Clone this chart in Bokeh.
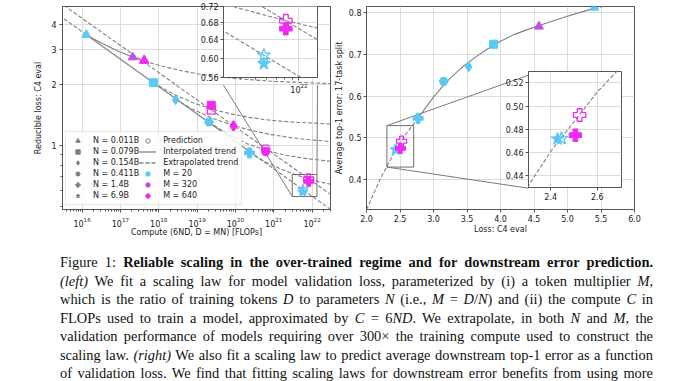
import numpy as np
from bokeh.plotting import figure
from bokeh.models import (Range1d, FixedTicker, PrintfTickFormatter, LogTickFormatter,
                          Legend, LegendItem, GridBox, Div, ColumnDataSource)
from bokeh.embed import file_html
from bokeh.resources import INLINE

# ---------------- left panel data ----------------
N_LABELS = ["0.011B", "0.079B", "0.154B", "0.411B", "1.4B", "6.9B"]
N_MARKERS = ["triangle", "square", "diamond", "hex", "plus", "star"]
M_LABELS = ["20", "320", "640"]
M_COLORS = ["#5ac8f5", "#c44de6", "#f02af0"]

# observed runs: N index, M index, compute [FLOPs], reducible loss
obs_n = [0, 0, 0, 1, 1, 2, 2, 3, 3, 4, 4, 5]
obs_m = [0, 1, 2, 0, 2, 0, 2, 0, 2, 0, 2, 0]
obs_c = [1.29e16, 2.09e17, 4.17e17, 7.24e17, 2.34e19, 2.75e18, 8.91e19,
         2.04e19, 6.17e20, 2.34e20, 8.13e21, 5.75e21]
obs_l = [3.54, 2.74, 2.64, 2.05, 1.585, 1.69, 1.256, 1.31, 0.935, 0.921, 0.666, 0.588]

# predictions (hollow markers)
pred_n = [0, 1, 2, 3, 4, 5]
pred_m = [2, 2, 2, 2, 2, 0]
pred_c = [4.17e17, 2.34e19, 8.91e19, 6.17e20, 8.13e21, 5.75e21]
pred_l = [2.64, 1.50, 1.25, 0.963, 0.685, 0.606]

# trend: M = 20 (dashed, solid, dashed)
m20_c = [2.5e15, 1.29e16, 2.34e20, 3.02e22]
m20_l = [4.43, 3.54, 0.935, 0.484]
# trend: M = 640 (dashed)
m640_c = [2.5e15, 3.02e22]
m640_l = [5.15, 0.574]
# trend: N = 0.011B (solid up to 5th point, then dashed)
n011_c = [1.29e16, 3.16e16, 1.0e17, 2.09e17, 4.17e17, 1.0e18, 3.16e18, 1.0e19,
          3.16e19, 1.0e20, 1.0e21, 3.02e22]
n011_l = [3.54, 3.22, 2.90, 2.75, 2.62, 2.50, 2.37, 2.27, 2.20, 2.15, 2.08, 2.03]
n079_c = [7.24e17, 2.29e18, 7.24e18, 2.34e19, 7.24e19, 2.29e20, 7.24e20, 2.88e21, 3.02e22]
n079_l = [2.05, 1.81, 1.64, 1.52, 1.44, 1.38, 1.34, 1.31, 1.28]
n154_c = [2.75e18, 8.71e18, 2.75e19, 8.91e19, 2.75e20, 8.71e20, 2.75e21, 8.71e21, 3.02e22]
n154_l = [1.69, 1.497, 1.358, 1.256, 1.186, 1.134, 1.096, 1.069, 1.049]
n411_c = [2.04e19, 6.46e19, 2.04e20, 6.17e20, 2.04e21, 6.46e21, 3.02e22]
n411_l = [1.31, 1.137, 1.023, 0.95, 0.897, 0.865, 0.837]
n14_c = [2.34e20, 5.89e20, 1.48e21, 3.72e21, 8.13e21, 1.48e22, 3.02e22]
n14_l = [0.921, 0.834, 0.768, 0.718, 0.685, 0.664, 0.644]

# ---------------- right panel data ----------------
r_loss = [5.398, 4.574, 3.897, 3.525, 3.152, 2.770, 2.429, 2.506]
r_err = [0.813, 0.7675, 0.725, 0.671, 0.636, 0.547, 0.4717, 0.475]
r_n = [0, 0, 1, 2, 3, 4, 5, 4]
r_m = [0, 1, 0, 0, 0, 0, 0, 2]
rp_loss = [2.446, 2.524]
rp_err = [0.4722, 0.4923]
rp_n = [5, 4]
rp_m = [0, 2]
fit_loss = [2.0, 2.2, 2.4, 2.6, 2.78, 3.0, 3.2, 3.4, 3.6, 3.8, 4.0, 4.2, 4.4, 4.6,
            4.8, 5.0, 5.2, 5.4, 5.6, 5.8, 6.0]
fit_err = [0.328, 0.400, 0.461, 0.512, 0.550, 0.598, 0.636, 0.666, 0.691, 0.713,
           0.732, 0.748, 0.760, 0.771, 0.782, 0.792, 0.802, 0.811, 0.818, 0.824, 0.829]

# ---------------- caption ----------------
CAPTION = [
    'Figure 1: <b>Reliable scaling in the over-trained regime and for downstream error prediction.</b>',
    '<i>(left)</i> We fit a scaling law for model validation loss, parameterized by (i) a token multiplier <i>M</i>,',
    'which is the ratio of training tokens <i>D</i> to parameters <i>N</i> (i.e., <i>M</i> = <i>D</i>/<i>N</i>) and (ii) the compute <i>C</i> in',
    'FLOPs used to train a model, approximated by <i>C</i> = 6<i>ND</i>. We extrapolate, in both <i>N</i> and <i>M</i>, the',
    'validation performance of models requiring over 300&times; the training compute used to construct the',
    'scaling law. <i>(right)</i> We also fit a scaling law to predict average downstream top-1 error as a function',
    'of validation loss. We find that fitting scaling laws for downstream error benefits from using more',
]

# ---------------- styling ----------------
FONT = "DejaVu Sans"
TXT = "#222222"
GRID = "#dcdcdc"
FRAME = "#555555"
TREND = "#808080"
DASH = "4 2"
SIZES = {"triangle": 9, "square": 8, "diamond": 10, "hex": 9, "plus": 10, "star": 11}
NAN = [float("nan")]


def style(fig, fs="8px"):
    fig.outline_line_color = FRAME
    fig.outline_line_width = 1
    fig.background_fill_color = "white"
    for ax in fig.axis:
        ax.axis_line_color = FRAME
        ax.major_tick_line_color = FRAME
        ax.minor_tick_line_color = FRAME
        ax.major_tick_out = 3
        ax.major_tick_in = 0
        ax.minor_tick_out = 2
        ax.minor_tick_in = 0
        ax.major_label_text_font = FONT
        ax.major_label_text_font_size = fs
        ax.major_label_text_color = TXT
        ax.axis_label_text_font = FONT
        ax.axis_label_text_font_size = fs
        ax.axis_label_text_font_style = "normal"
        ax.axis_label_text_color = TXT
        ax.major_label_standoff = 2
    for g in fig.grid:
        g.grid_line_color = GRID
        g.grid_line_width = 1


def points(fig, xs, ys, ns, ms, hollow, scale=1.0):
    src = ColumnDataSource(dict(
        x=xs, y=ys,
        marker=[N_MARKERS[k] for k in ns],
        color=[M_COLORS[k] for k in ms],
        size=[SIZES[N_MARKERS[k]] * scale for k in ns],
    ))
    if hollow:
        fig.scatter("x", "y", source=src, marker="marker", size="size",
                    fill_alpha=0, line_color="color", line_width=1.3)
    else:
        fig.scatter("x", "y", source=src, marker="marker", size="size",
                    fill_color="color", line_color="color", line_width=1)


def trend(fig, xs, ys, dashed):
    fig.line(xs, ys, line_color=TREND, line_width=1.1,
             line_dash=DASH if dashed else "solid")


def left_lines(fig):
    trend(fig, m20_c[0:2], m20_l[0:2], True)
    trend(fig, m20_c[1:3], m20_l[1:3], False)
    trend(fig, m20_c[2:4], m20_l[2:4], True)
    trend(fig, m640_c, m640_l, True)
    trend(fig, n011_c[:5], n011_l[:5], False)
    trend(fig, n011_c[4:], n011_l[4:], True)
    for cc, ll in [(n079_c, n079_l), (n154_c, n154_l), (n411_c, n411_l), (n14_c, n14_l)]:
        trend(fig, cc, ll, True)


# ---------------- geometry (window pixels) ----------------
L_X0, L_X1 = 15.49, 22.48          # log10 compute at frame edges
L_Y0, L_Y1 = -0.316, 0.689         # log10 loss at frame edges
L_FRAME = (62, 330, 0, 209)        # left, right, top, bottom
I1_X = (10 ** 21.483, 10 ** 22.127)
I1_Y = (0.56, 0.7205)
I1_FRAME = (223, 317, 6, 81)

R_FRAME = (366, 634, 0, 210)
R_X = (2.0, 6.0)
R_Y = (0.3283, 0.8155)
I2_X = (2.3045, 2.704)
I2_Y = (0.4301, 0.5296)
I2_FRAME = (528, 621, 71, 188)

# ---------------- left main ----------------
p1 = figure(width=332, height=244, x_axis_type="log", y_axis_type="log",
            x_range=Range1d(10 ** L_X0, 10 ** L_X1), y_range=Range1d(10 ** L_Y0, 10 ** L_Y1),
            output_backend="svg", toolbar_location=None,
            min_border_left=62, min_border_right=2, min_border_top=0, min_border_bottom=35)
style(p1)
p1.yaxis.ticker = FixedTicker(ticks=[1, 2, 3, 4, 5], minor_ticks=[0.5, 0.6, 0.7, 0.8, 0.9])
p1.yaxis.formatter = PrintfTickFormatter(format="%d")
p1.xaxis.formatter = LogTickFormatter()
p1.xaxis.axis_label = "Compute (6ND, D = MN) [FLOPs]"
p1.yaxis.axis_label = "Reducible loss: C4 eval"
p1.xaxis.major_label_standoff = 4
p1.xaxis.axis_label_standoff = -2
p1.yaxis.major_label_standoff = 3
p1.yaxis.axis_label_standoff = 5

left_lines(p1)


def l_to_data(px, py):
    fx = L_X0 + (px - L_FRAME[0]) / (L_FRAME[1] - L_FRAME[0]) * (L_X1 - L_X0)
    fy = L_Y1 - (py - L_FRAME[2]) / (L_FRAME[3] - L_FRAME[2]) * (L_Y1 - L_Y0)
    return 10 ** fx, 10 ** fy


p1.quad(left=I1_X[0], right=I1_X[1], bottom=I1_Y[0], top=0.72,
        fill_alpha=0, line_color="#6e6e6e", line_width=1)
bl = l_to_data(I1_FRAME[0], I1_FRAME[3])
br = l_to_data(I1_FRAME[1], I1_FRAME[3])
p1.line([bl[0], I1_X[0]], [bl[1], I1_Y[0]], line_color="#7a7a7a", line_width=1)
p1.line([br[0], I1_X[1]], [br[1], 0.72], line_color="#7a7a7a", line_width=1)

points(p1, pred_c, pred_l, pred_n, pred_m, True)
points(p1, obs_c, obs_l, obs_n, obs_m, False)

# legend
items = []
for k in range(6):
    r = p1.scatter(NAN, NAN, marker=N_MARKERS[k], fill_color="#7f7f7f", line_color="#7f7f7f")
    items.append(LegendItem(label="N = " + N_LABELS[k], renderers=[r]))
r = p1.scatter(NAN, NAN, marker="circle", fill_alpha=0, line_color="#7f7f7f", line_width=1)
items.append(LegendItem(label="Prediction", renderers=[r]))
r = p1.line(NAN, NAN, line_color=TREND, line_width=1.3)
items.append(LegendItem(label="Interpolated trend", renderers=[r]))
r = p1.line(NAN, NAN, line_color=TREND, line_width=1.3, line_dash=DASH)
items.append(LegendItem(label="Extrapolated trend", renderers=[r]))
for k in range(3):
    r = p1.scatter(NAN, NAN, marker="circle", fill_color=M_COLORS[k], line_color=M_COLORS[k])
    items.append(LegendItem(label="M = " + M_LABELS[k], renderers=[r]))
legend = Legend(items=items, ncols=2, location=(3, 4),
                label_text_font=FONT, label_text_font_size="8px", label_text_color=TXT,
                glyph_width=17, glyph_height=11, label_height=11, label_standoff=7,
                spacing=0, padding=3, margin=0,
                border_line_color="#cfcfcf", border_line_width=1,
                background_fill_color="white", background_fill_alpha=0.85)
p1.add_layout(legend)

# ---------------- left inset ----------------
ins1 = figure(width=124, height=95, x_axis_type="log", y_axis_type="log",
              x_range=Range1d(*I1_X), y_range=Range1d(*I1_Y),
              output_backend="svg", toolbar_location=None,
              min_border_left=28, min_border_right=2, min_border_top=6, min_border_bottom=14)
style(ins1)
ins1.border_fill_alpha = 0
ins1.yaxis.ticker = FixedTicker(ticks=[0.56, 0.60, 0.64, 0.68, 0.72])
ins1.yaxis.formatter = PrintfTickFormatter(format="%.2f")
ins1.xaxis.ticker = FixedTicker(ticks=[1e22], minor_ticks=[4e21, 5e21, 6e21, 7e21, 8e21, 9e21])
ins1.xaxis.formatter = LogTickFormatter()
left_lines(ins1)
points(ins1, pred_c, pred_l, pred_n, pred_m, True, scale=1.25)
points(ins1, obs_c, obs_l, obs_n, obs_m, False, scale=1.25)

# ---------------- right main ----------------
p2 = figure(width=326, height=244, x_range=Range1d(*R_X), y_range=Range1d(*R_Y),
            output_backend="svg", toolbar_location=None,
            min_border_left=44, min_border_right=14, min_border_top=0, min_border_bottom=34)
style(p2)
p2.border_fill_alpha = 0
p2.xaxis.ticker = FixedTicker(ticks=[2.0, 2.5, 3.0, 3.5, 4.0, 4.5, 5.0, 5.5, 6.0])
p2.xaxis.formatter = PrintfTickFormatter(format="%.1f")
p2.yaxis.ticker = FixedTicker(ticks=[0.4, 0.5, 0.6, 0.7, 0.8])
p2.yaxis.formatter = PrintfTickFormatter(format="%.1f")
p2.xaxis.axis_label = "Loss: C4 eval"
p2.yaxis.axis_label = "Average top-1 error: 17-task split"
p2.xaxis.axis_label_standoff = 0
p2.yaxis.axis_label_standoff = 2

i0 = fit_loss.index(2.78)
i1 = fit_loss.index(5.4)
trend(p2, fit_loss[:i0 + 1], fit_err[:i0 + 1], True)
trend(p2, fit_loss[i0:i1 + 1], fit_err[i0:i1 + 1], False)
trend(p2, fit_loss[i1:], fit_err[i1:], True)


def r_to_data(px, py):
    fx = R_X[0] + (px - R_FRAME[0]) / (R_FRAME[1] - R_FRAME[0]) * (R_X[1] - R_X[0])
    fy = R_Y[1] - (py - R_FRAME[2]) / (R_FRAME[3] - R_FRAME[2]) * (R_Y[1] - R_Y[0])
    return fx, fy


p2.quad(left=I2_X[0], right=I2_X[1], bottom=I2_Y[0], top=I2_Y[1],
        fill_alpha=0, line_color="#6e6e6e", line_width=1)
tl = r_to_data(I2_FRAME[0], I2_FRAME[2])
bl2 = r_to_data(I2_FRAME[0], I2_FRAME[3])
p2.line([I2_X[0], tl[0]], [I2_Y[1], tl[1]], line_color="#7a7a7a", line_width=1)
p2.line([I2_X[0], bl2[0]], [I2_Y[0], bl2[1]], line_color="#7a7a7a", line_width=1)

points(p2, rp_loss, rp_err, rp_n, rp_m, True)
points(p2, r_loss, r_err, r_n, r_m, False)

# ---------------- right inset ----------------
ins2 = figure(width=124, height=136, x_range=Range1d(*I2_X), y_range=Range1d(*I2_Y),
              output_backend="svg", toolbar_location=None,
              min_border_left=28, min_border_right=3, min_border_top=5, min_border_bottom=14)
style(ins2)
ins2.border_fill_alpha = 0
ins2.xaxis.ticker = FixedTicker(ticks=[2.4, 2.6])
ins2.xaxis.formatter = PrintfTickFormatter(format="%.1f")
ins2.yaxis.ticker = FixedTicker(ticks=[0.44, 0.46, 0.48, 0.50, 0.52])
ins2.yaxis.formatter = PrintfTickFormatter(format="%.2f")
trend(ins2, fit_loss, fit_err, True)
points(ins2, rp_loss, rp_err, rp_n, rp_m, True, scale=1.25)
points(ins2, r_loss, r_err, r_n, r_m, False, scale=1.25)

# ---------------- caption ----------------
line_html = "".join(
    '<div style="text-align:justify;text-align-last:justify;white-space:nowrap;">%s</div>' % t
    for t in CAPTION)
cap = Div(text='<div style="font-family:\'Liberation Serif\',serif;font-size:14.4px;'
               'line-height:18.5px;color:#111;width:593px;">' + line_html + '</div>',
          width=593, height=133)

# ---------------- layout ----------------
cols = [55, 140, 124, 3, 10, 168, 124, 24]
rows = [66, 29, 107, 42, 4, 133]
grid = GridBox(children=[
    (p1, 0, 0, 4, 5),
    (p2, 0, 4, 4, 4),
    (ins1, 0, 2, 2, 1),
    (ins2, 1, 6, 2, 1),
    (cap, 5, 1, 1, 7),
], rows=["%dpx" % h for h in rows], cols=["%dpx" % w for w in cols], spacing=0)

open("out.html", "w").write(file_html(grid, INLINE))
